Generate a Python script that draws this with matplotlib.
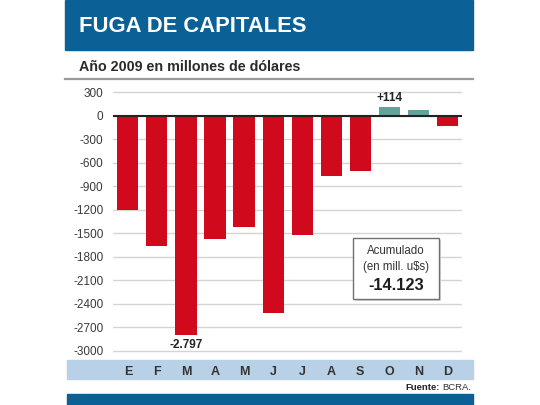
import numpy as np
import matplotlib
matplotlib.use("Agg")
import matplotlib.pyplot as plt
from matplotlib.patches import Rectangle
from matplotlib import font_manager

months = ['E', 'F', 'M', 'A', 'M', 'J', 'J', 'A', 'S', 'O', 'N', 'D']
values = [-1200, -1665, -2797, -1575, -1425, -2520, -1520, -765, -710, 114, 75, -135]
yticks = [300, 0, -300, -600, -900, -1200, -1500, -1800, -2100, -2400, -2700, -3000]
total = '-14.123'

names = {f.name for f in font_manager.fontManager.ttflist}
fam = 'Liberation Sans Narrow' if 'Liberation Sans Narrow' in names else 'Liberation Sans'
plt.rcParams['font.family'] = [fam, 'DejaVu Sans']

W, H = 540, 405
def fx(px):
    return px / W
def fy(py):
    return 1 - py / H

blue = '#0b6096'
red = '#d0091c'
teal = '#64a39b'

fig = plt.figure(figsize=(5.4, 4.05), dpi=100)

# header band
fig.patches.append(Rectangle((fx(65), fy(50)), fx(472.7) - fx(65), 50 / H,
                             transform=fig.transFigure, color=blue, zorder=-1))
fig.text(fx(79), fy(27), 'FUGA DE CAPITALES', color='white', fontsize=15.8,
         fontweight='bold', va='center', ha='left')
fig.text(fx(79), fy(67), 'Año 2009 en millones de dólares', color='#2b2b2b',
         fontsize=10.3, fontweight='bold', va='center', ha='left')
fig.lines.append(plt.Line2D([fx(65), fx(472.7)], [fy(79), fy(79)],
                            transform=fig.transFigure, color='#9a9a9a', lw=1.6))

# month band and footer
fig.patches.append(Rectangle((fx(66.7), fy(379)), fx(472.7) - fx(66.7), 19 / H,
                             transform=fig.transFigure, color='#b9d1e7', zorder=-1))
fig.patches.append(Rectangle((fx(66.7), 0), fx(472.7) - fx(66.7), 11 / H,
                             transform=fig.transFigure, color=blue, zorder=-1))

ax = fig.add_axes([fx(113.3), fy(358), fx(462) - fx(113.3), (358 - 85) / H])
x = np.arange(len(months))
colors = [teal if v > 0 else red for v in values]
ax.bar(x, values, width=0.73, color=colors, zorder=3)
ax.axhline(0, color='#222222', lw=1.5, zorder=4)
ax.set_xlim(-0.5, len(months) - 0.5)
ax.set_ylim(-3090, 390)
ax.set_yticks(yticks)
ax.set_yticklabels([str(t) for t in yticks], fontsize=8.5, color='#3a3a3a')
ax.grid(axis='y', color='#d4d4d4', lw=1, zorder=0)
ax.tick_params(axis='y', length=0, pad=7)
ax.set_xticks(x)
ax.set_xticklabels(months, fontsize=9, fontweight='bold', color='#333333')
ax.tick_params(axis='x', length=0, pad=6)
for s in ax.spines.values():
    s.set_visible(False)
ax.patch.set_alpha(0)

# value labels
i_min = int(np.argmin(values))
ax.annotate(f'{values[i_min] / 1000:.3f}', (x[i_min], values[i_min]),
            xytext=(0, -3), textcoords='offset points', ha='center', va='top',
            fontsize=8.5, fontweight='bold', color='#222222')
i_max = int(np.argmax(values))
ax.annotate(f'+{values[i_max]}', (x[i_max], values[i_max]),
            xytext=(0, 2), textcoords='offset points', ha='center', va='bottom',
            fontsize=8.5, fontweight='bold', color='#222222')

# accumulated box
fig.patches.append(Rectangle((fx(354.5), fy(301)), fx(441) - fx(354.5), 61 / H,
                             transform=fig.transFigure, facecolor='#d6d6d6',
                             edgecolor='none', zorder=5))
fig.patches.append(Rectangle((fx(352.7), fy(299.3)), fx(439.3) - fx(352.7), 61 / H,
                             transform=fig.transFigure, facecolor='white',
                             edgecolor='#707070', lw=1, zorder=6))
fig.text(fx(396), fy(251), 'Acumulado', ha='center', va='center', fontsize=8.3,
         color='#333333', zorder=7)
fig.text(fx(396), fy(267), '(en mill. u$s)', ha='center', va='center', fontsize=8.3,
         color='#333333', zorder=7)
fig.text(fx(396), fy(285), total, ha='center', va='center', fontsize=11.8,
         fontweight='bold', color='#1e1e1e', zorder=7)

# source
src = fig.text(fx(471), fy(387), 'BCRA.', ha='right', va='center', fontsize=6.8,
               color='#333333')
fig.canvas.draw()
bb = src.get_window_extent()
fig.text(bb.x0 / W - 0.004, fy(387), 'Fuente:', ha='right', va='center',
         fontsize=6.8, fontweight='bold', color='#222222')

fig.savefig('out.png', dpi=100)
